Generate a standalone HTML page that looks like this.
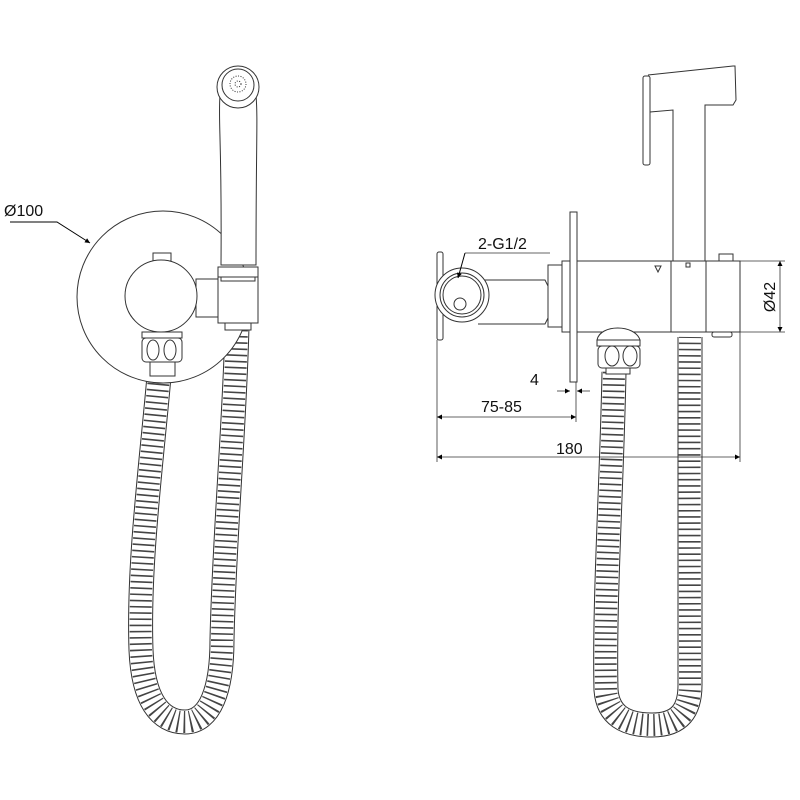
<!DOCTYPE html>
<html><head><style>html,body{margin:0;padding:0;background:#fff}svg{display:block}</style></head><body>
<svg width="800" height="800" viewBox="0 0 800 800" xmlns="http://www.w3.org/2000/svg" font-family="Liberation Sans, sans-serif">
<defs>
<marker id="ar" viewBox="0 0 10 10" refX="10" refY="5" markerWidth="12" markerHeight="5" orient="auto-start-reverse" markerUnits="userSpaceOnUse"><path d="M0,0 L10,5 L0,10 z" fill="#000"/></marker>
</defs>
<g fill="none" stroke="#333" stroke-width="1">
<!-- LEFT VIEW hose -->
<path d="M160,365 C152,460 138,560 141,650 C143,700 160,722 185,722 C210,722 222,690 222,640 C224,540 235,420 237,325" stroke="#333" stroke-width="25"/>
<path d="M160,365 C152,460 138,560 141,650 C143,700 160,722 185,722 C210,722 222,690 222,640 C224,540 235,420 237,325" stroke="#fff" stroke-width="23"/>
<path d="M160,365 C152,460 138,560 141,650 C143,700 160,722 185,722 C210,722 222,690 222,640 C224,540 235,420 237,325" stroke="#444" stroke-width="22" stroke-dasharray="1.6 4.6"/>
<!-- plate circle -->
<circle cx="163" cy="297" r="86" fill="#fff"/>
<!-- handshower -->
<path d="M220,95 C218,120 222,140 221,265 L256,265 C256,140 258,120 256,95" fill="#fff"/>
<circle cx="238" cy="87" r="21" fill="#fff"/>
<circle cx="238" cy="85" r="16"/>
<circle cx="238" cy="84" r="8" stroke-dasharray="1 1.5"/>
<circle cx="238" cy="84" r="3" stroke-dasharray="1 1.5"/>
<rect x="196" y="279" width="24" height="38" fill="#fff"/>
<rect x="218" y="267" width="40" height="56" fill="#fff"/>
<rect x="218" y="267" width="40" height="10"/>
<rect x="221" y="277" width="34" height="4"/>
<rect x="225" y="323" width="26" height="7" fill="#fff"/>
<!-- body -->
<rect x="153" y="253" width="18" height="8" fill="#fff"/>
<circle cx="161" cy="296" r="36" fill="#fff"/>
<rect x="142" y="332" width="40" height="6" fill="#fff"/>
<rect x="142" y="338" width="40" height="24" rx="4" fill="#fff"/>
<ellipse cx="153" cy="350" rx="6" ry="10"/>
<ellipse cx="170" cy="350" rx="6" ry="10"/>
<rect x="150" y="362" width="25" height="14" fill="#fff"/>
<!-- leader Ø100 -->
<path d="M10,222 L57,222 L90,243" stroke="#000" marker-end="url(#ar)"/>

<!-- RIGHT VIEW hoses -->
<path d="M614,372 C612,480 604,600 606,690 C608,715 625,725 652,725 C680,725 690,710 690,685 C690,560 689,440 690,337" stroke="#333" stroke-width="25"/>
<path d="M614,372 C612,480 604,600 606,690 C608,715 625,725 652,725 C680,725 690,710 690,685 C690,560 689,440 690,337" stroke="#fff" stroke-width="23"/>
<path d="M614,372 C612,480 604,600 606,690 C608,715 625,725 652,725 C680,725 690,710 690,685 C690,560 689,440 690,337" stroke="#444" stroke-width="22" stroke-dasharray="1.6 4.6"/>
<!-- handshower right -->
<path d="M648,75 L733,66 L735,66 L736,100 L733,105 L705,105 L705,261 L673,261 L673,110 L650,112" fill="#fff"/>
<rect x="643" y="76" width="7" height="89" rx="2" fill="#fff"/>
<!-- body -->
<rect x="719" y="254" width="14" height="8" fill="#fff"/>
<rect x="562" y="261" width="178" height="71" fill="#fff"/>
<line x1="671" y1="261" x2="671" y2="332"/>
<line x1="706" y1="261" x2="706" y2="332"/>
<path d="M655,266 L661,266 L658,272 z"/>
<rect x="686" y="263" width="4" height="4"/>
<rect x="712" y="332" width="20" height="5" rx="2"/>
<!-- cap & nut -->
<path d="M597,340 C600,324 635,324 640,340 z" fill="#fff"/>
<rect x="597" y="340" width="43" height="6" fill="#fff"/>
<rect x="598" y="346" width="42" height="22" rx="4" fill="#fff"/>
<ellipse cx="612" cy="356" rx="7" ry="10"/>
<ellipse cx="630" cy="356" rx="7" ry="10"/>
<rect x="606" y="368" width="24" height="6" fill="#fff"/>
<!-- wall plate -->
<rect x="570" y="212" width="7" height="170" fill="#fff"/>
<!-- pipe -->
<rect x="548" y="265" width="14" height="62" fill="#fff"/>
<path d="M478,280 L545,280 L548,286 L548,318 L545,324 L478,324"/>
<rect x="437" y="252" width="6" height="88" rx="2" fill="#fff"/>
<circle cx="462" cy="295" r="27" fill="#fff"/>
<circle cx="462" cy="295" r="22"/>
<circle cx="462" cy="295" r="19"/>
<circle cx="460" cy="304" r="6"/>
<path d="M465,253 L550,253" stroke="#666"/>
<path d="M465,253 L458,278" stroke="#000" marker-end="url(#ar)"/>
<!-- dimensions -->
<g stroke="#333" stroke-width="0.8">
<line x1="437" y1="340" x2="437" y2="462"/>
<line x1="576" y1="382" x2="576" y2="422"/>
<line x1="740" y1="332" x2="740" y2="462"/>
<line x1="740" y1="261" x2="785" y2="261"/>
<line x1="740" y1="332" x2="785" y2="332"/>
<line x1="557" y1="391" x2="570" y2="391" marker-end="url(#ar)"/>
<line x1="590" y1="391" x2="577" y2="391" marker-end="url(#ar)"/>
<line x1="437" y1="417" x2="576" y2="417" marker-start="url(#ar)" marker-end="url(#ar)"/>
<line x1="437" y1="457" x2="740" y2="457" marker-start="url(#ar)" marker-end="url(#ar)"/>
<line x1="780" y1="261" x2="780" y2="332" marker-start="url(#ar)" marker-end="url(#ar)"/>
</g>
</g>
<g fill="#111" font-size="16">
<text x="4" y="216">Ø100</text>
<text x="478" y="249">2-G1/2</text>
<text x="530" y="385">4</text>
<text x="481" y="412">75-85</text>
<text x="556" y="454">180</text>
<text transform="translate(775,297) rotate(-90)" text-anchor="middle">Ø42</text>
</g>
</svg>
</body></html>
